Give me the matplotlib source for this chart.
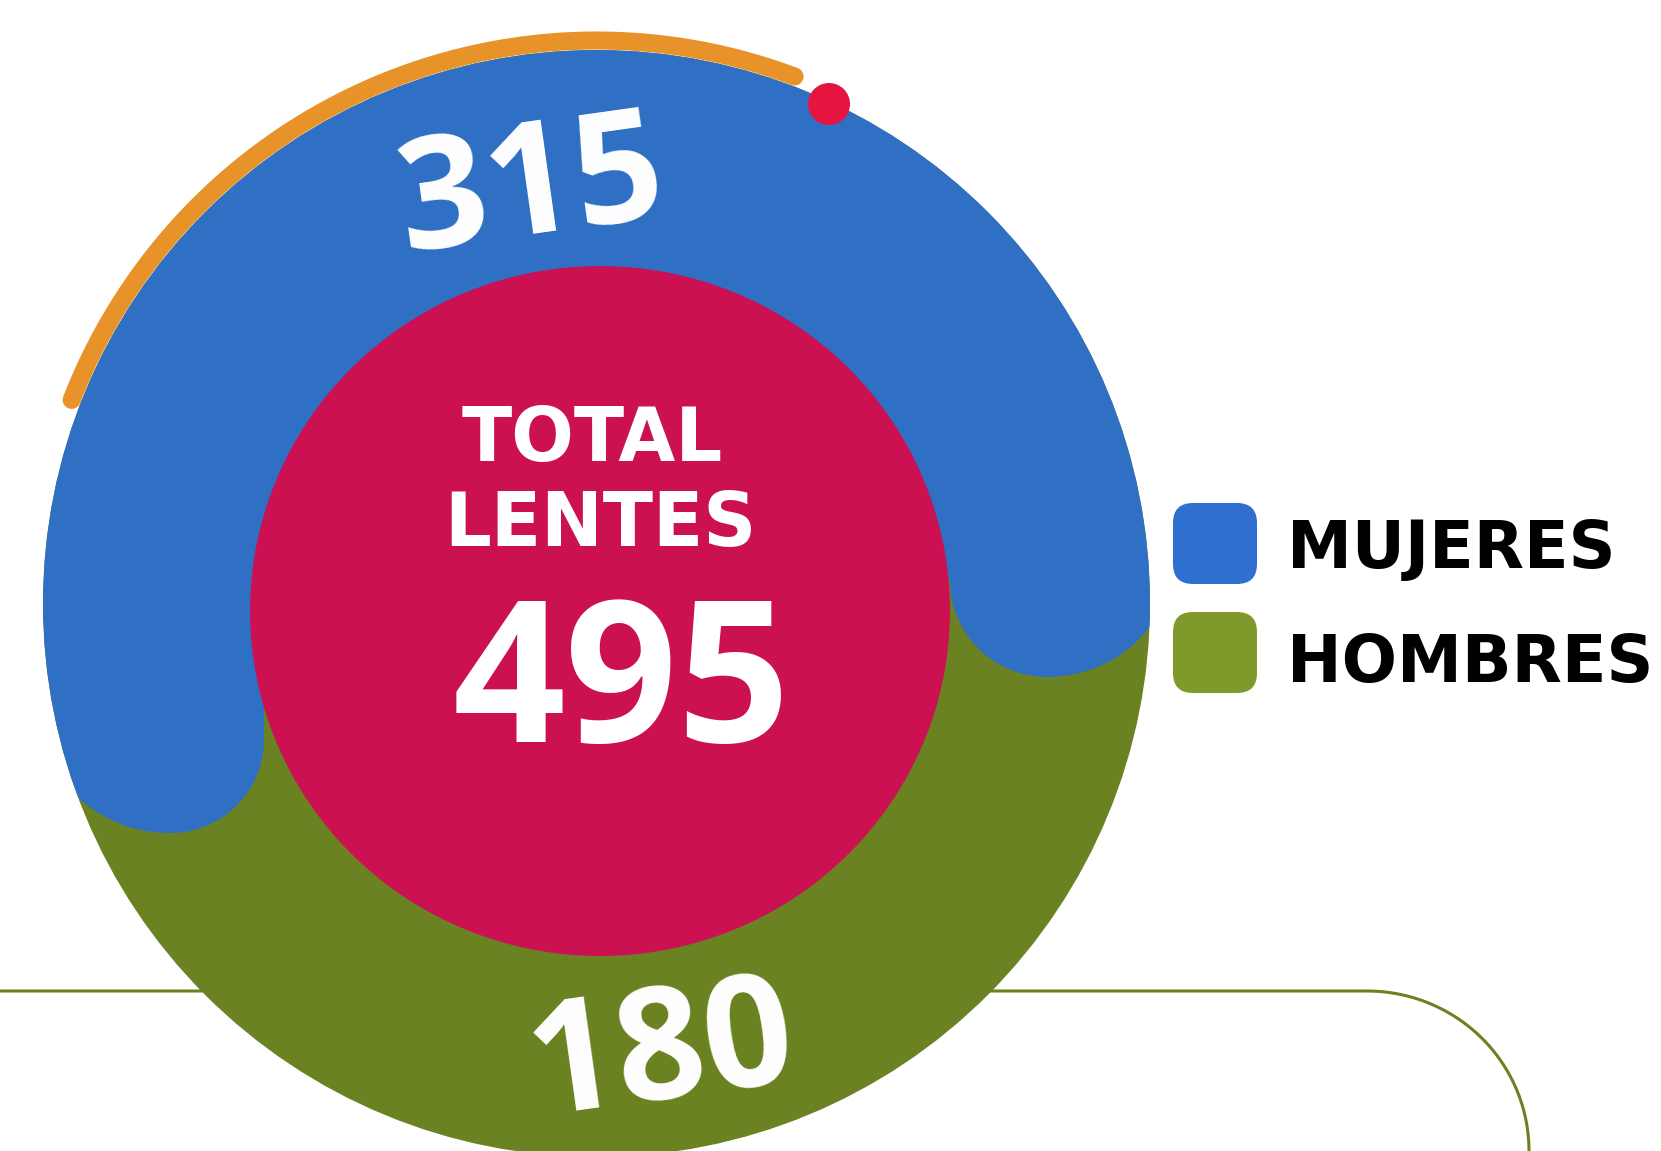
"""
Lentes entregados por sexo: circulo partido azul/verde con el total al centro.
"""

import numpy as np
import matplotlib
matplotlib.use("Agg")
import matplotlib.pyplot as plt
from matplotlib.patches import Circle, Ellipse, Polygon, FancyBboxPatch

# data
categories = ["MUJERES", "HOMBRES"]
values     = [315, 180]
total_lbl  = ["TOTAL", "LENTES"]

BLUE       = "#2f6fc4"
GREEN      = "#6b8223"
MAGENTA    = "#cc1152"
ORANGE     = "#e8922a"
DOT_RED    = "#e6143f"
LEG_COLORS = ["#2e6fd0", "#7f9a2a"]

W, H = 1661, 1151
CX, CY, R = 596.5, 603.5, 553.5          # outer circle (pixel coords)
NUM_FONT  = "Open Sans"
WORD_FONT = "DejaVu Sans"


def quarter(cx, cy, rx, ry, t0, t1, n=40):
    # y grows downward, so t in (0, pi) is the lower half
    t = np.linspace(t0, t1, n)
    return np.column_stack([cx + rx * np.cos(t), cy + ry * np.sin(t)])


fig = plt.figure(figsize=(W / 100, H / 100), dpi=100)
ax = fig.add_axes([0, 0, 1, 1])
ax.set_xlim(0, W)
ax.set_ylim(H, 0)
ax.axis("off")

# thin frame line behind the circle, with rounded corner going down
line_y, corner_x, corner_r = 991, 1367, 162
t = np.linspace(np.pi / 2, 0, 50)
xs = np.concatenate([[0], corner_x + corner_r * np.cos(t)])
ys = np.concatenate([[line_y], H - (H - line_y) * np.sin(t)])
ax.plot(xs, ys, color=GREEN, lw=2.2, zorder=1, solid_capstyle="butt")

# outer circle = hombres (green), blue wavy top = mujeres
outer = Circle((CX, CY), R, facecolor=GREEN, edgecolor="none", zorder=2)
ax.add_patch(outer)

hp = np.pi / 2
blue_pts = np.vstack([
    [[-20, -20], [1220, -20], [1220, 560]],
    quarter(1047, 560, 125, 117, 0, hp),        # right lobe, outer side
    quarter(1047, 580, 97, 97, hp, np.pi),       # right lobe, inner side
    [[500, 580], [264, 580]],
    quarter(170, 740, 94, 93, 0, hp),           # left lobe, inner side
    quarter(170, 722, 125, 111, hp, np.pi),      # left lobe, outer side
    [[-20, 722]],
])
blue = Polygon(blue_pts, closed=True, facecolor=BLUE, edgecolor="none", zorder=3)
ax.add_patch(blue)
blue.set_clip_path(outer)

# center disc
ax.add_patch(Ellipse((600, 611), 700, 690, facecolor=MAGENTA, edgecolor="none", zorder=4))

# orange arc along the top-left rim and red dot
t = np.radians(np.linspace(69.4, 158.8, 200))
ax.plot(CX + 563 * np.cos(t), CY - 563 * np.sin(t), color=ORANGE, lw=13,
        solid_capstyle="round", zorder=5)
ax.add_patch(Circle((829, 104), 21, facecolor=DOT_RED, edgecolor="none", zorder=6))

# values on the ring
value_pos = [(537, 232), (667, 1096)]
value_size = [112, 112]
for v, (x, y), fs in zip(values, value_pos, value_size):
    ax.text(x, y, str(v), color="white", fontsize=fs, family=NUM_FONT, weight="bold",
            ha="center", va="baseline", rotation=8, rotation_mode="anchor", zorder=7)

# total in the middle
ax.text(592, 461, total_lbl[0], color="white", fontsize=53, family=WORD_FONT,
        weight="bold", ha="center", va="baseline", zorder=7)
ax.text(600, 546, total_lbl[1], color="white", fontsize=53, family=WORD_FONT,
        weight="bold", ha="center", va="baseline", zorder=7)
ax.text(622, 742, str(sum(values)), color="white", fontsize=142, family=NUM_FONT,
        weight="bold", ha="center", va="baseline", zorder=7)

# legend
leg_top = [503, 612]
leg_base = [568, 682]
for cat, col, top, base in zip(categories, LEG_COLORS, leg_top, leg_base):
    ax.add_patch(FancyBboxPatch((1173, top), 84, 81,
                                boxstyle="round,pad=0,rounding_size=20",
                                facecolor=col, edgecolor="none", zorder=5))
    ax.text(1287, base, cat, color="black", fontsize=47, family=WORD_FONT,
            weight="bold", ha="left", va="baseline", zorder=5)

fig.savefig("out.png", dpi=100, facecolor="white")
